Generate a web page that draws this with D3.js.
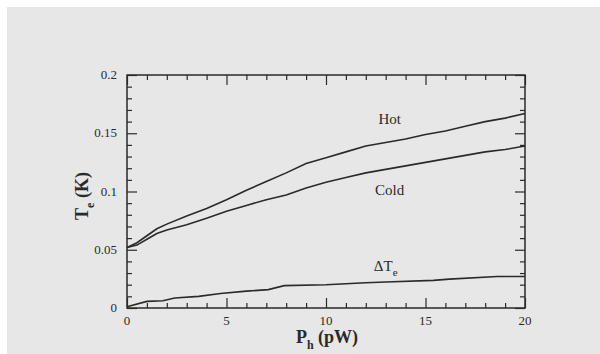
<!DOCTYPE html>
<html>
<head>
<meta charset="utf-8">
<script src="https://cdn.jsdelivr.net/npm/d3@7"></script>
<style>
  body { margin: 0; background: #fff; }
  svg { display: block; }
</style>
</head>
<body>
<svg id="chart" width="600" height="354"></svg>
<script>
// heater power (pW)
const powerPW = [0, 0.5, 1, 1.5, 2, 3, 4, 5, 6, 7, 8, 9, 10, 11, 12, 13, 14, 15, 16, 17, 18, 19, 20]
// electron temperatures (K)
const hotK  = [0.052, 0.056, 0.062, 0.068, 0.072, 0.079, 0.0855, 0.093, 0.101, 0.1085, 0.116, 0.124, 0.129, 0.134, 0.139, 0.142, 0.145, 0.149, 0.152, 0.156, 0.160, 0.163, 0.167]
const coldK = [0.052, 0.054, 0.059, 0.064, 0.067, 0.0715, 0.077, 0.083, 0.088, 0.093, 0.097, 0.103, 0.108, 0.112, 0.116, 0.119, 0.122, 0.125, 0.128, 0.131, 0.134, 0.136, 0.139]
// difference hot - cold
const deltaP = [0, 1, 1.8, 2.4, 3.6, 4.7, 6, 7.1, 7.9, 10, 12, 13, 15.4, 16.2, 18.6, 20]
const deltaK = [0.001, 0.0057, 0.0062, 0.0086, 0.010, 0.0125, 0.0145, 0.0158, 0.0192, 0.020, 0.0217, 0.0223, 0.0237, 0.0248, 0.027, 0.027]

const xMajor = [0, 5, 10, 15, 20]
const yMajor = [0, 0.05, 0.1, 0.15, 0.2]
const yTickLabels = ['0', '0.05', '0.1', '0.15', '0.2']

const M = { left: 127, top: 75, w: 398, h: 233 }
const INK = '#2a2a2a'
const FONT = '"Liberation Serif", "DejaVu Serif", serif'

const svg = d3.select('#chart')
svg.append('rect').attr('x', 7).attr('y', 7).attr('width', 593).attr('height', 347).attr('fill', '#e7e7e7')

const g = svg.append('g').attr('transform', `translate(${M.left},${M.top})`)

const x = d3.scaleLinear().domain([0, 20]).range([0, M.w])
const y = d3.scaleLinear().domain([0, 0.2]).range([M.h, 0])

// inward ticks on all four sides
function ticks(axis, vals, size) {
  return axis.tickValues(vals).tickSize(size).tickFormat('')
}
const xMinor = d3.range(0, 21, 1).filter(v => v % 5 !== 0)
const yMinor = d3.range(0, 0.2001, 0.01).filter((v, i) => i % 5 !== 0)

const gBot = g.append('g').attr('transform', `translate(0,${M.h})`)
gBot.append('g').call(ticks(d3.axisTop(x), xMajor, 10))
gBot.append('g').call(ticks(d3.axisTop(x), xMinor, 5))
g.append('g').call(ticks(d3.axisBottom(x), xMajor, 10))
g.append('g').call(ticks(d3.axisBottom(x), xMinor, 5))
g.append('g').call(ticks(d3.axisRight(y), yMajor, 10))
g.append('g').call(ticks(d3.axisRight(y), yMinor, 5))
const gRight = g.append('g').attr('transform', `translate(${M.w},0)`)
gRight.append('g').call(ticks(d3.axisLeft(y), yMajor, 10))
gRight.append('g').call(ticks(d3.axisLeft(y), yMinor, 5))
g.selectAll('.domain').remove()
g.selectAll('.tick line').attr('stroke', INK).attr('stroke-width', 1.2)

g.append('rect').attr('width', M.w).attr('height', M.h)
  .attr('fill', 'none').attr('stroke', INK).attr('stroke-width', 1.5)

// tick labels
g.selectAll('text.xl').data(xMajor).enter().append('text').attr('class', 'xl')
  .attr('x', d => x(d)).attr('y', M.h + 17).attr('text-anchor', 'middle')
  .attr('font-family', FONT).attr('font-size', 13).attr('fill', INK).text(d => d)
g.selectAll('text.yl').data(yMajor).enter().append('text').attr('class', 'yl')
  .attr('x', -10).attr('y', d => y(d) + 4).attr('text-anchor', 'end')
  .attr('font-family', FONT).attr('font-size', 13).attr('fill', INK).text((d, i) => yTickLabels[i])

// curves
const line = d3.line().x(d => x(d[0])).y(d => y(d[1]))
const series = [
  d3.zip(powerPW, hotK),
  d3.zip(powerPW, coldK),
  d3.zip(deltaP, deltaK),
]
g.selectAll('path.curve').data(series).enter().append('path').attr('class', 'curve')
  .attr('d', line).attr('fill', 'none').attr('stroke', INK).attr('stroke-width', 1.6)

// curve labels
const lab = (px, t, txt) => g.append('text').attr('x', x(px)).attr('y', y(t))
  .attr('text-anchor', 'middle').attr('font-family', FONT).attr('font-size', 15).attr('fill', INK).text(txt)
lab(13.2, 0.158, 'Hot')
lab(13.2, 0.097, 'Cold')
const dt = lab(13, 0.032, 'ΔT')
dt.append('tspan').attr('font-size', 11).attr('dy', 5).text('e')

// axis titles
svg.append('text').attr('x', 327).attr('y', 343).attr('text-anchor', 'middle')
  .attr('font-family', FONT).attr('font-size', 18).attr('font-weight', 'bold').attr('fill', INK)
  .call(t => {
    t.append('tspan').text('P')
    t.append('tspan').attr('font-size', 12).attr('dy', 6).text('h')
    t.append('tspan').attr('dy', -6).text(' (pW)')
  })
svg.append('text').attr('transform', 'translate(88,196) rotate(-90)').attr('text-anchor', 'middle')
  .attr('font-family', FONT).attr('font-size', 18).attr('font-weight', 'bold').attr('fill', INK)
  .call(t => {
    t.append('tspan').text('T')
    t.append('tspan').attr('font-size', 12).attr('dy', 6).text('e')
    t.append('tspan').attr('dy', -6).text(' (K)')
  })
</script>
</body>
</html>
